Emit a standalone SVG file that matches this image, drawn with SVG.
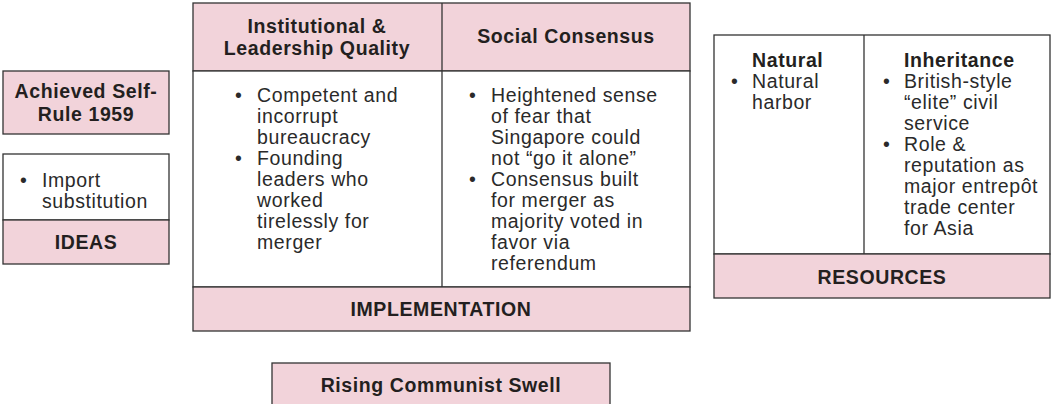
<svg xmlns="http://www.w3.org/2000/svg" width="1056" height="404" viewBox="0 0 1056 404">
<style>
.pink{fill:#f2d3da;stroke:#333;stroke-width:1.3}
.white{fill:#fff;stroke:#333;stroke-width:1.3}
.ln{stroke:#333;stroke-width:1.3;fill:none}
.h{font-family:"Liberation Sans",Arial,sans-serif;font-weight:bold;font-size:19.5px;fill:#231f20;letter-spacing:0.6px}
.hc{text-anchor:middle}
.b{font-family:"Liberation Sans",Arial,sans-serif;font-size:19.5px;fill:#2a2a2a;letter-spacing:0.6px}
</style>
<rect width="1056" height="404" fill="#fff"/>
<g id="self-rule">
<rect class="pink" x="3" y="71" width="166" height="63"/>
<text class="h hc" x="86" y="98">Achieved Self-</text>
<text class="h hc" x="86" y="121">Rule 1959</text>
</g>
<g id="ideas">
<rect class="white" x="3" y="154" width="166" height="66"/>
<rect class="pink" x="3" y="220" width="166" height="44"/>
<text class="b" x="20" y="187">•</text>
<text class="b" x="42" y="187">Import</text>
<text class="b" x="42" y="208">substitution</text>
<text class="h hc" x="86" y="249">IDEAS</text>
</g>
<g id="implementation">
<rect class="pink" x="193" y="3" width="497" height="68"/>
<rect class="white" x="193" y="71" width="497" height="216"/>
<rect class="pink" x="193" y="287" width="497" height="44"/>
<line class="ln" x1="442" y1="3" x2="442" y2="287"/>
<text class="h hc" x="317" y="33">Institutional &amp;</text>
<text class="h hc" x="317" y="55">Leadership Quality</text>
<text class="h hc" x="566" y="43">Social Consensus</text>
<text class="b" x="235" y="102">•</text>
<text class="b" x="257" y="102">Competent and</text>
<text class="b" x="257" y="123">incorrupt</text>
<text class="b" x="257" y="144">bureaucracy</text>
<text class="b" x="235" y="165">•</text>
<text class="b" x="257" y="165">Founding</text>
<text class="b" x="257" y="186">leaders who</text>
<text class="b" x="257" y="207">worked</text>
<text class="b" x="257" y="228">tirelessly for</text>
<text class="b" x="257" y="249">merger</text>
<text class="b" x="469" y="102">•</text>
<text class="b" x="491" y="102">Heightened sense</text>
<text class="b" x="491" y="123">of fear that</text>
<text class="b" x="491" y="144">Singapore could</text>
<text class="b" x="491" y="165">not “go it alone”</text>
<text class="b" x="469" y="186">•</text>
<text class="b" x="491" y="186">Consensus built</text>
<text class="b" x="491" y="207">for merger as</text>
<text class="b" x="491" y="228">majority voted in</text>
<text class="b" x="491" y="249">favor via</text>
<text class="b" x="491" y="270">referendum</text>
<text class="h hc" x="441" y="316">IMPLEMENTATION</text>
</g>
<g id="resources">
<rect class="white" x="714" y="35" width="336" height="219"/>
<rect class="pink" x="714" y="254" width="336" height="44"/>
<line class="ln" x1="864" y1="35" x2="864" y2="254"/>
<text class="h" x="752" y="67">Natural</text>
<text class="b" x="731" y="88">•</text>
<text class="b" x="752" y="88">Natural</text>
<text class="b" x="752" y="109">harbor</text>
<text class="h" x="904" y="67">Inheritance</text>
<text class="b" x="883" y="88">•</text>
<text class="b" x="904" y="88">British-style</text>
<text class="b" x="904" y="109">“elite” civil</text>
<text class="b" x="904" y="130">service</text>
<text class="b" x="883" y="151">•</text>
<text class="b" x="904" y="151">Role &amp;</text>
<text class="b" x="904" y="172">reputation as</text>
<text class="b" x="904" y="193">major entrepôt</text>
<text class="b" x="904" y="214">trade center</text>
<text class="b" x="904" y="235">for Asia</text>
<text class="h hc" x="882" y="284">RESOURCES</text>
</g>
<g id="communist-swell">
<rect class="pink" x="272" y="363" width="338" height="50"/>
<text class="h hc" x="441" y="392">Rising Communist Swell</text>
</g>
<g id="connectors"></g>
</svg>
